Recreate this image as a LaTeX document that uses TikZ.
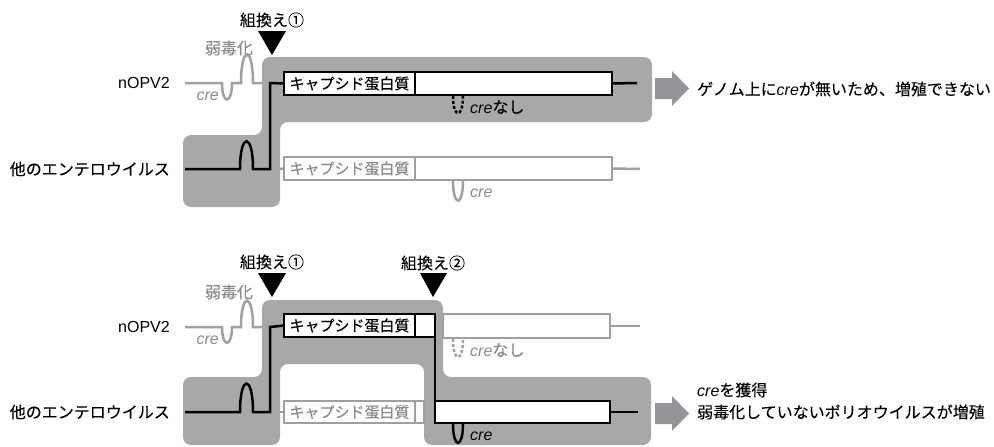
\documentclass[tikz,border=0pt]{standalone}
\usepackage{fontspec}
\setmainfont{Noto Sans CJK JP}[FakeBold=0.1]
\newfontfamily\lib{Liberation Sans}
\newcommand\creit{{\lib\itshape cre}}
\definecolor{reg}{HTML}{A7A8AA}
\definecolor{arr}{HTML}{939598}
\definecolor{gl}{HTML}{A0A0A0}
\definecolor{gt}{HTML}{8A8A8A}
\tikzset{
  blk/.style={line width=2.5pt, black},
  gln/.style={line width=2.5pt, gl},
  region/.style={fill=reg, rounded corners=8pt},
  bbox/.style={draw=black, line width=2.4pt, fill=white, outer sep=0pt, inner sep=0pt, anchor=north west},
  gbox/.style={draw=gl, line width=2.4pt, fill=white, outer sep=0pt, inner sep=0pt, anchor=north west, text=gt},
  lbl/.style={font=\fontsize{16}{19}\selectfont, inner sep=0pt},
  boxlbl/.style={font=\fontsize{15}{17}\selectfont},
  tri/.style={fill=black},
  bigarrow/.style={fill=arr},
  dashu/.style={dash pattern=on 3pt off 2pt}
}
\begin{document}
\begin{tikzpicture}[x=1pt,y=-1pt]
\useasboundingbox (0,0) rectangle (994,447);

% ================= top panel =================
\fill[region] (262,57) -- (652,57) -- (652,122) -- (280,122) -- (280,207) -- (183,207) -- (183,135) -- (262,135) -- cycle;

\node[lbl] (r1) at (272,20) {組換え①};
\fill[tri] (258,31) -- (286,31) -- (272,55) -- cycle;
\node[lbl, text=gt] (w1) at (229,48) {弱毒化};
\node[lbl, anchor=east] (n1) at (170,83) {\lib\fontsize{16}{18}\selectfont nOPV2};
\node[lbl, anchor=east] (o1) at (170,169) {他のエンテロウイルス};
\node[lbl, anchor=east, text=gt] (c1) at (219,96) {\creit};

\coordinate (g1s) at (185,83);
\coordinate (g1e) at (262,83);
\draw[gln] (g1s) -- (222,83) .. controls (222,105) and (232,105) .. (232,83) -- (241,83)
  .. controls (241,45) and (253,45) .. (253,83) -- (g1e);

\node[bbox, boxlbl, minimum width=131pt, minimum height=23pt] (cap1) at (284,72) {キャプシド蛋白質};
\node[bbox, minimum width=197pt, minimum height=23pt] (bl1) at (415,72) {};
\coordinate (b1s) at (185,169);
\draw[blk] (b1s) -- (240,169) .. controls (240,132) and (253,132) .. (253,169) -- (270,169) -- (270,83) -- (cap1.west);
\coordinate (e1) at (637,83);
\draw[blk] (bl1.east) -- (e1);
\draw[blk, dashu] (453,96) .. controls (453,119) and (463,119) .. (463,96);
\node[lbl, anchor=west] (cn1) at (470,107) {\creit なし};

\node[gbox, boxlbl, minimum width=131pt, minimum height=23pt] (cap2) at (284,157) {キャプシド蛋白質};
\node[gbox, minimum width=197pt, minimum height=23pt] (bl2) at (415,157) {};
\coordinate (g2s) at (280,169);
\coordinate (e2) at (640,169);
\draw[gln] (g2s) -- (cap2.west);
\draw[gln] (bl2.east) -- (e2);
\draw[gln] (453,181) .. controls (453,207) and (463,207) .. (463,181);
\node[lbl, anchor=west, text=gt] (cc2) at (470,193) {\creit};

\fill[bigarrow] (655,78) -- (672,78) -- (672,71) -- (689,88.5) -- (672,106) -- (672,99) -- (655,99) -- cycle;
\node[lbl, anchor=west] (t1) at (697,89) {ゲノム上に\creit が無いため、増殖できない};

% ================= bottom panel =================
\fill[region] (262,300) -- (443,300) -- (443,377) -- (651,377) -- (651,445) -- (424,445) -- (424,364) -- (280,364) -- (280,445) -- (183,445) -- (183,377) -- (262,377) -- cycle;

\node[lbl] (r2) at (272,262) {組換え①};
\fill[tri] (258,273) -- (286,273) -- (272,297) -- cycle;
\node[lbl] (r3) at (433,263) {組換え②};
\fill[tri] (420,273) -- (447,273) -- (433,297) -- cycle;
\node[lbl, text=gt] (w2) at (229,292) {弱毒化};
\node[lbl, anchor=east] (n2) at (170,327) {\lib\fontsize{16}{18}\selectfont nOPV2};
\node[lbl, anchor=east] (o2) at (170,412) {他のエンテロウイルス};
\node[lbl, anchor=east, text=gt] (c2) at (219,340) {\creit};

\coordinate (g3s) at (185,327);
\coordinate (g3e) at (262,327);
\draw[gln] (g3s) -- (222,327) .. controls (222,348) and (232,348) .. (232,327) -- (241,327)
  .. controls (241,292) and (253,292) .. (253,327) -- (g3e);

\node[bbox, boxlbl, minimum width=131pt, minimum height=23pt] (cap3) at (284,314) {キャプシド蛋白質};
\node[bbox, minimum width=20pt, minimum height=23pt] (cl3) at (415,314) {};
\node[bbox, minimum width=175pt, minimum height=22pt] (bl4) at (435,401) {};
\coordinate (b3s) at (185,412);
\draw[blk] (b3s) -- (240,412) .. controls (240,374) and (253,374) .. (253,412) -- (270,412) -- (270,327) -- (cap3.west);
\draw[blk] (cl3.north east) -- (bl4.south west);
\coordinate (e4) at (638,412);
\draw[blk] (bl4.east) -- (e4);
\draw[blk] (453,424) .. controls (453,449) and (463,449) .. (463,424);
\node[lbl, anchor=west] (cc4) at (470,436) {\creit};

\node[gbox, minimum width=167pt, minimum height=24pt] (bl5) at (443,314) {};
\coordinate (e5) at (640,326);
\draw[gln] (bl5.east) -- (e5);
\draw[gln, dashu] (453,339) .. controls (453,363) and (463,363) .. (463,339);
\node[lbl, anchor=west, text=gt] (cn5) at (470,350) {\creit なし};

\node[gbox, boxlbl, minimum width=131pt, minimum height=22pt] (cap6) at (284,401) {キャプシド蛋白質};
\node[gbox, minimum width=9pt, minimum height=22pt] (cl6) at (415,401) {};
\coordinate (g6s) at (280,412);
\draw[gln] (g6s) -- (cap6.west);

\fill[bigarrow] (655,403) -- (672,403) -- (672,396) -- (689,413.5) -- (672,431) -- (672,424) -- (655,424) -- cycle;
\node[lbl, anchor=west] (t2) at (697,390) {\creit を獲得};
\node[lbl, anchor=west] (t3) at (697,412) {弱毒化していないポリオウイルスが増殖};
\end{tikzpicture}
\end{document}
